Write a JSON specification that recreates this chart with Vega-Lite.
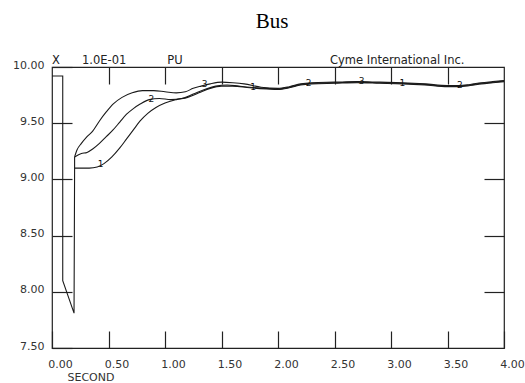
{
  "$schema": "https://vega.github.io/schema/vega-lite/v6.json",
  "autosize": "none",
  "width": 452,
  "height": 281,
  "padding": {"left": 52, "top": 67, "right": 21, "bottom": 35},
  "background": "white",
  "config": {
    "view": {"stroke": "#222", "strokeWidth": 1.2},
    "axis": {
      "domain": false,
      "grid": false,
      "labelFlush": false,
      "tickColor": "#222",
      "tickWidth": 1.2,
      "labelFont": "DejaVu Sans",
      "labelFontSize": 11,
      "labelColor": "#333",
      "titleFont": "DejaVu Sans",
      "titleFontSize": 11,
      "titleFontWeight": "normal",
      "titleColor": "#333"
    }
  },
  "title": {
    "text": "Bus",
    "font": "Liberation Serif",
    "fontSize": 21,
    "fontWeight": "normal",
    "color": "#000",
    "anchor": "middle",
    "dx": -6,
    "offset": 23
  },
  "datasets": {
    "curves": [
      {"s": "0", "i": 0, "t": 0, "v": 9.92}, {"s": "0", "i": 1, "t": 0.095, "v": 9.92}, {"s": "0", "i": 2, "t": 0.095, "v": 8.1}, {"s": "0", "i": 3, "t": 0.195, "v": 7.81}, {"s": "0", "i": 4, "t": 0.2, "v": 9.1}, {"s": "0", "i": 5, "t": 0.2, "v": 9.2},

      {"s": "1", "i": 0, "t": 0.2, "v": 9.1},
      {"s": "1", "i": 1, "t": 0.25, "v": 9.1}, {"s": "1", "i": 2, "t": 0.33, "v": 9.1}, {"s": "1", "i": 3, "t": 0.4, "v": 9.11}, {"s": "1", "i": 4, "t": 0.46, "v": 9.14}, {"s": "1", "i": 5, "t": 0.53, "v": 9.2},
      {"s": "1", "i": 6, "t": 0.6, "v": 9.28}, {"s": "1", "i": 7, "t": 0.66, "v": 9.36}, {"s": "1", "i": 8, "t": 0.72, "v": 9.44}, {"s": "1", "i": 9, "t": 0.78, "v": 9.52}, {"s": "1", "i": 10, "t": 0.85, "v": 9.59},
      {"s": "1", "i": 11, "t": 0.92, "v": 9.64}, {"s": "1", "i": 12, "t": 1.0, "v": 9.68}, {"s": "1", "i": 13, "t": 1.1, "v": 9.71}, {"s": "1", "i": 14, "t": 1.2, "v": 9.73}, {"s": "1", "i": 15, "t": 1.3, "v": 9.77},
      {"s": "1", "i": 16, "t": 1.4, "v": 9.81}, {"s": "1", "i": 17, "t": 1.5, "v": 9.83}, {"s": "1", "i": 18, "t": 1.6, "v": 9.83}, {"s": "1", "i": 19, "t": 1.75, "v": 9.815}, {"s": "1", "i": 20, "t": 1.9, "v": 9.805},
      {"s": "1", "i": 21, "t": 2.0, "v": 9.8}, {"s": "1", "i": 22, "t": 2.1, "v": 9.815}, {"s": "1", "i": 23, "t": 2.2, "v": 9.84}, {"s": "1", "i": 24, "t": 2.3, "v": 9.85}, {"s": "1", "i": 25, "t": 2.5, "v": 9.855},
      {"s": "1", "i": 26, "t": 2.7, "v": 9.86}, {"s": "1", "i": 27, "t": 2.9, "v": 9.855}, {"s": "1", "i": 28, "t": 3.1, "v": 9.85}, {"s": "1", "i": 29, "t": 3.3, "v": 9.84}, {"s": "1", "i": 30, "t": 3.5, "v": 9.825},
      {"s": "1", "i": 31, "t": 3.6, "v": 9.825}, {"s": "1", "i": 32, "t": 3.7, "v": 9.835}, {"s": "1", "i": 33, "t": 3.8, "v": 9.85}, {"s": "1", "i": 34, "t": 3.9, "v": 9.86}, {"s": "1", "i": 35, "t": 4.0, "v": 9.87},

      {"s": "2", "i": 0, "t": 0.2, "v": 9.2},
      {"s": "2", "i": 1, "t": 0.26, "v": 9.23}, {"s": "2", "i": 2, "t": 0.31, "v": 9.24}, {"s": "2", "i": 3, "t": 0.36, "v": 9.27}, {"s": "2", "i": 4, "t": 0.42, "v": 9.32}, {"s": "2", "i": 5, "t": 0.48, "v": 9.38},
      {"s": "2", "i": 6, "t": 0.54, "v": 9.44}, {"s": "2", "i": 7, "t": 0.6, "v": 9.51}, {"s": "2", "i": 8, "t": 0.66, "v": 9.58}, {"s": "2", "i": 9, "t": 0.72, "v": 9.63}, {"s": "2", "i": 10, "t": 0.78, "v": 9.67},
      {"s": "2", "i": 11, "t": 0.86, "v": 9.71}, {"s": "2", "i": 12, "t": 0.95, "v": 9.72}, {"s": "2", "i": 13, "t": 1.05, "v": 9.71}, {"s": "2", "i": 14, "t": 1.15, "v": 9.72}, {"s": "2", "i": 15, "t": 1.25, "v": 9.76},
      {"s": "2", "i": 16, "t": 1.35, "v": 9.8}, {"s": "2", "i": 17, "t": 1.45, "v": 9.83}, {"s": "2", "i": 18, "t": 1.55, "v": 9.84}, {"s": "2", "i": 19, "t": 1.65, "v": 9.83}, {"s": "2", "i": 20, "t": 1.75, "v": 9.82},
      {"s": "2", "i": 21, "t": 1.9, "v": 9.81}, {"s": "2", "i": 22, "t": 2.0, "v": 9.805}, {"s": "2", "i": 23, "t": 2.1, "v": 9.82}, {"s": "2", "i": 24, "t": 2.2, "v": 9.845}, {"s": "2", "i": 25, "t": 2.3, "v": 9.855},
      {"s": "2", "i": 26, "t": 2.5, "v": 9.86}, {"s": "2", "i": 27, "t": 2.7, "v": 9.865}, {"s": "2", "i": 28, "t": 2.9, "v": 9.86}, {"s": "2", "i": 29, "t": 3.1, "v": 9.855}, {"s": "2", "i": 30, "t": 3.3, "v": 9.845},
      {"s": "2", "i": 31, "t": 3.5, "v": 9.83}, {"s": "2", "i": 32, "t": 3.6, "v": 9.83}, {"s": "2", "i": 33, "t": 3.7, "v": 9.84}, {"s": "2", "i": 34, "t": 3.8, "v": 9.855}, {"s": "2", "i": 35, "t": 3.9, "v": 9.865}, {"s": "2", "i": 36, "t": 4.0, "v": 9.875},

      {"s": "3", "i": 0, "t": 0.2, "v": 9.2},
      {"s": "3", "i": 1, "t": 0.22, "v": 9.26}, {"s": "3", "i": 2, "t": 0.26, "v": 9.32}, {"s": "3", "i": 3, "t": 0.31, "v": 9.38}, {"s": "3", "i": 4, "t": 0.36, "v": 9.43}, {"s": "3", "i": 5, "t": 0.42, "v": 9.52},
      {"s": "3", "i": 6, "t": 0.48, "v": 9.6}, {"s": "3", "i": 7, "t": 0.54, "v": 9.67}, {"s": "3", "i": 8, "t": 0.62, "v": 9.73}, {"s": "3", "i": 9, "t": 0.71, "v": 9.77}, {"s": "3", "i": 10, "t": 0.8, "v": 9.79},
      {"s": "3", "i": 11, "t": 0.9, "v": 9.79}, {"s": "3", "i": 12, "t": 1.0, "v": 9.78}, {"s": "3", "i": 13, "t": 1.1, "v": 9.77}, {"s": "3", "i": 14, "t": 1.18, "v": 9.78}, {"s": "3", "i": 15, "t": 1.25, "v": 9.81},
      {"s": "3", "i": 16, "t": 1.32, "v": 9.83}, {"s": "3", "i": 17, "t": 1.4, "v": 9.85}, {"s": "3", "i": 18, "t": 1.5, "v": 9.865}, {"s": "3", "i": 19, "t": 1.6, "v": 9.86}, {"s": "3", "i": 20, "t": 1.7, "v": 9.85},
      {"s": "3", "i": 21, "t": 1.85, "v": 9.82}, {"s": "3", "i": 22, "t": 2.0, "v": 9.81}, {"s": "3", "i": 23, "t": 2.1, "v": 9.825}, {"s": "3", "i": 24, "t": 2.2, "v": 9.85}, {"s": "3", "i": 25, "t": 2.3, "v": 9.86},
      {"s": "3", "i": 26, "t": 2.5, "v": 9.865}, {"s": "3", "i": 27, "t": 2.7, "v": 9.87}, {"s": "3", "i": 28, "t": 2.9, "v": 9.865}, {"s": "3", "i": 29, "t": 3.1, "v": 9.86}, {"s": "3", "i": 30, "t": 3.3, "v": 9.85},
      {"s": "3", "i": 31, "t": 3.5, "v": 9.835}, {"s": "3", "i": 32, "t": 3.6, "v": 9.835}, {"s": "3", "i": 33, "t": 3.7, "v": 9.845}, {"s": "3", "i": 34, "t": 3.8, "v": 9.86}, {"s": "3", "i": 35, "t": 3.9, "v": 9.87}, {"s": "3", "i": 36, "t": 4.0, "v": 9.88}
    ],
    "labels": [
      {"n": "1", "t": 0.43, "v": 9.13},
      {"n": "2", "t": 0.88, "v": 9.71},
      {"n": "3", "t": 1.35, "v": 9.84},
      {"n": "1", "t": 1.78, "v": 9.815},
      {"n": "2", "t": 2.27, "v": 9.85},
      {"n": "3", "t": 2.74, "v": 9.865},
      {"n": "1", "t": 3.1, "v": 9.85},
      {"n": "2", "t": 3.61, "v": 9.83}
    ],
    "notes": [
      {"txt": "X", "t": 0.0},
      {"txt": "1.0E-01", "t": 0.265},
      {"txt": "PU", "t": 1.02},
      {"txt": "Cyme International Inc.", "t": 2.46}
    ]
  },
  "resolve": {"axis": {"x": "independent", "y": "independent"}},
  "layer": [
    {
      "data": {"name": "curves"},
      "transform": [{"filter": "datum.s != '0'"}],
      "mark": {"type": "line", "color": "#1a1a1a", "strokeWidth": 1.1, "interpolate": "monotone"},
      "encoding": {
        "x": {"field": "t", "type": "quantitative", "scale": {"domain": [0, 4], "nice": false, "zero": false},
          "axis": {"orient": "bottom", "values": [0, 0.5, 1, 1.5, 2, 2.5, 3, 3.5, 4], "format": ".2f", "tickSize": -17, "labelPadding": 27, "labelOffset": 8,
            "title": "SECOND", "titleAnchor": "start", "titleAlign": "left", "titleX": 15, "titleY": 34, "titleBaseline": "bottom"}},
        "y": {"field": "v", "type": "quantitative", "scale": {"domain": [7.5, 10], "nice": false, "zero": false},
          "axis": {"orient": "left", "values": [7.5, 8, 8.5, 9, 9.5, 10], "format": ".2f", "tickSize": -20, "labelPadding": 28, "labelOffset": -2, "title": null}},
        "detail": {"field": "s"},
        "order": {"field": "i", "type": "quantitative"}
      }
    },
    {
      "data": {"name": "curves"},
      "transform": [{"filter": "datum.s == '0'"}],
      "mark": {"type": "line", "color": "#1a1a1a", "strokeWidth": 1.1, "interpolate": "linear"},
      "encoding": {
        "x": {"field": "t", "type": "quantitative", "axis": null},
        "y": {"field": "v", "type": "quantitative", "axis": null},
        "order": {"field": "i", "type": "quantitative"}
      }
    },
    {
      "data": {"name": "labels"},
      "mark": {"type": "text", "font": "DejaVu Sans", "fontSize": 9, "color": "#111", "dy": -1},
      "encoding": {
        "x": {"field": "t", "type": "quantitative",
          "axis": {"orient": "top", "values": [0.5, 1, 1.5, 2, 2.5, 3, 3.5], "tickSize": -17, "labels": false, "title": null}},
        "y": {"field": "v", "type": "quantitative",
          "axis": {"orient": "right", "values": [8, 8.5, 9, 9.5], "tickSize": -20, "labels": false, "title": null}},
        "text": {"field": "n"}
      }
    },
    {
      "data": {"name": "notes"},
      "mark": {"type": "text", "font": "DejaVu Sans", "fontSize": 11.5, "color": "#222", "align": "left", "baseline": "bottom", "dy": -1},
      "encoding": {
        "x": {"field": "t", "type": "quantitative", "axis": null},
        "y": {"datum": 10, "type": "quantitative", "axis": null},
        "text": {"field": "txt"}
      }
    }
  ]
}
